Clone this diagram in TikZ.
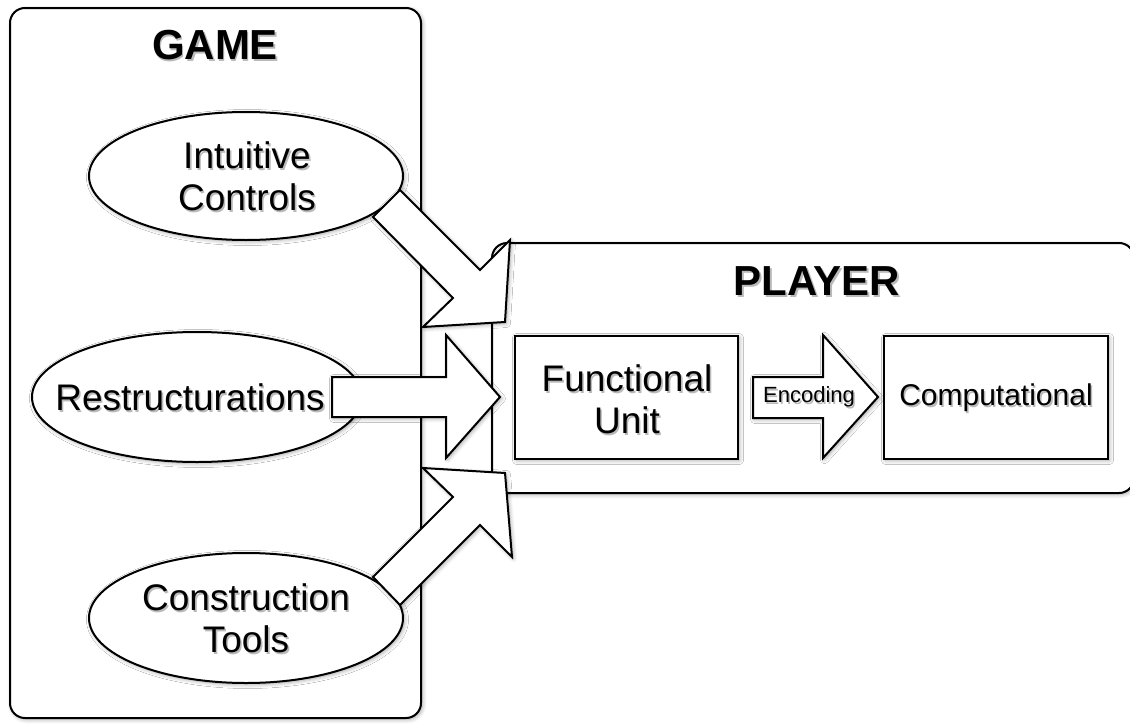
\documentclass[tikz,border=0pt]{standalone}
\usepackage{fontspec}
\setmainfont{Liberation Sans}
\usetikzlibrary{shapes.geometric,shadows.blur}
\newcommand\shtext[4]{%
  \node[text=black!60, opacity=0.45, align=center, font=#3, xshift=1.6pt, yshift=-1.8pt] (#1s) at (#2) {#4};
  \node[align=center, font=#3] (#1) at (#2) {#4};}
\begin{document}
\begin{tikzpicture}[x=1pt,y=-1pt,
  line width=2pt,
  sh/.style={blur shadow={shadow blur steps=6, shadow xshift=1.5pt, shadow yshift=-1.5pt, shadow opacity=35, shadow blur radius=4pt}},
  panel/.style={draw, fill=white, rounded corners=15pt, sh},
  oval/.style={draw, fill=white, ellipse, inner sep=0pt, sh},
  rbox/.style={draw, fill=white, inner sep=0pt, sh},
  blk/.style={draw, fill=white, line join=miter, sh},
]
\useasboundingbox (0,0) rectangle (1130,723);
% panels
\draw[panel] (10,8) rectangle (421,718);
\draw[panel] (492,243) rectangle (1134,493);
% ovals
\node[oval, minimum width=314pt, minimum height=128pt] (ic) at (246,176) {};
\node[oval, minimum width=330pt, minimum height=130pt] (re) at (197,397) {};
\node[oval, minimum width=314pt, minimum height=130pt] (ct) at (246,618) {};
% boxes
\node[rbox, minimum width=223pt, minimum height=123pt] (fu) at (626.5,397.5) {};
\node[rbox, minimum width=224pt, minimum height=123pt] (co) at (996,397.5) {};
% block arrows
\draw[blk] (400,190) -- (480,270) -- (510,240) -- (505,322) -- (423,327) -- (453,298) -- (373,217) -- cycle;
\draw[blk] (332,377) -- (446,377) -- (446,335) -- (500,397) -- (446,458) -- (446,417) -- (332,417) -- cycle;
\draw[blk] (373,577) -- (453,497) -- (423,468) -- (505,473) -- (512,557) -- (480,525) -- (400,605) -- cycle;
\draw[blk] (753,377) -- (823,377) -- (823,335) -- (878,397) -- (823,458) -- (823,418) -- (753,418) -- cycle;
% texts
\shtext{game}{215,45}{\fontsize{42}{46}\bfseries\selectfont}{GAME}
\shtext{player}{817,281}{\fontsize{42}{46}\bfseries\selectfont}{PLAYER}
\shtext{ict}{247,176}{\fontsize{37}{42}\selectfont}{Intuitive\\Controls}
\shtext{ret}{190,397}{\fontsize{37}{42}\selectfont}{Restructurations}
\shtext{ctt}{246,618}{\fontsize{37}{42}\selectfont}{Construction\\Tools}
\shtext{fut}{627,399}{\fontsize{37}{42}\selectfont}{Functional\\Unit}
\shtext{cot}{996,398}{\fontsize{30}{34}\selectfont}{Computational}
\shtext{enc}{809,397}{\fontsize{22}{26}\selectfont}{Encoding}
\end{tikzpicture}
\end{document}
